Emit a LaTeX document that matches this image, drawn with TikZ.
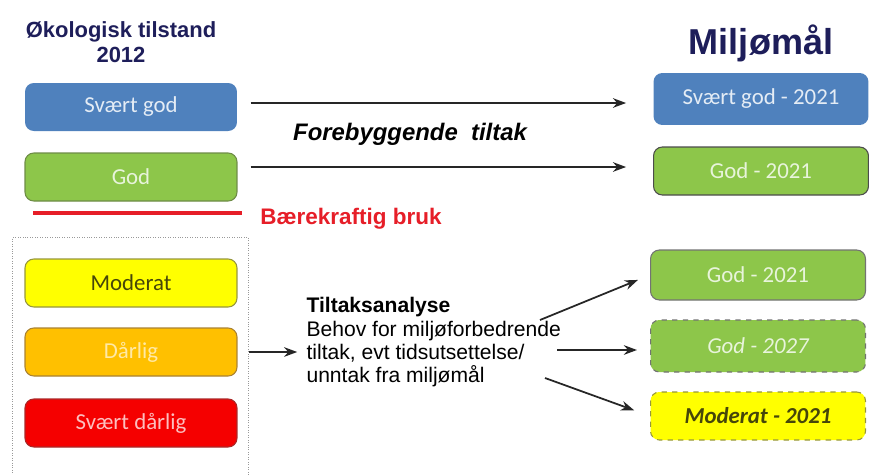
\documentclass[tikz,border=0pt]{standalone}
\usepackage{fontspec}
\setmainfont{Liberation Sans}
\newfontfamily\calfont{Carlito}
\usetikzlibrary{arrows.meta,positioning}

\definecolor{sgblue}{RGB}{79,129,189}
\definecolor{godgreen}{RGB}{141,198,74}
\definecolor{godline}{RGB}{110,140,70}
\definecolor{modyellow}{RGB}{255,255,0}
\definecolor{modline}{RGB}{150,150,60}
\definecolor{modtext}{RGB}{70,70,10}
\definecolor{darlorange}{RGB}{255,192,0}
\definecolor{darlline}{RGB}{170,130,50}
\definecolor{sdred}{RGB}{245,0,0}
\definecolor{sdline}{RGB}{170,40,40}
\definecolor{titlenavy}{RGB}{30,30,90}
\definecolor{brukred}{RGB}{230,30,40}

\begin{document}
\begin{tikzpicture}[x=0.02cm, y=-0.02cm, semithick,
  class/.style={rounded corners=5pt, minimum width=4.24cm, minimum height=0.96cm,
                font=\calfont\fontsize{13}{15}\selectfont, inner sep=0pt},
  goal/.style={class, minimum width=4.3cm},
  link/.style={-{Stealth[length=7.5pt,width=5.5pt]}, line width=1pt, black!85},
  heading/.style={font=\bfseries\fontsize{12.5}{14}\selectfont, text=titlenavy, align=center}]

  \useasboundingbox (0,0) rectangle (869,474);

  % titles
  \node[heading] (status) at (121,42) {Økologisk tilstand\\2012};
  \node[heading, font=\bfseries\fontsize{20.5}{22}\selectfont] (goals) at (761,43) {Miljømål};

  % left column: status 2012
  \node[draw=black!40, densely dotted, thin, minimum width=4.72cm, minimum height=4.9cm,
        anchor=north west, inner sep=0pt] (frame) at (12,237) {};
  \node[class, fill=sgblue, text=white!85!sgblue] (sg) at (131,107) {Svært god};
  \node[class, fill=godgreen, draw=godline, text=white!80!godgreen] (god) at (131,177) {God};
  \node[class, fill=modyellow, draw=modline, text=modtext] (mod) at (131,283) {Moderat};
  \node[class, fill=darlorange, draw=darlline, text=white!65!darlorange] (darl) at (131,352) {Dårlig};
  \node[class, fill=sdred, draw=sdline, text=white!75!sdred] (sd) at (131,423) {Svært dårlig};

  \coordinate (lineL) at (33,213);
  \coordinate (lineR) at (242,213);
  \draw[brukred, line width=2.8pt] (lineL) -- (lineR);
  \node[anchor=west, text=brukred, font=\bfseries\fontsize{12.8}{14}\selectfont] (bruk) at (254,219) {Bærekraftig bruk};

  % right column: goals
  \node[goal, fill=sgblue, text=white!85!sgblue, minimum height=1.04cm] (sg2) at (761,99) {Svært god - 2021};
  \node[goal, fill=godgreen, draw=black!70, text=white!80!godgreen] (god2) at (761,171) {God - 2021};
  \node[goal, fill=godgreen, draw=black!55, text=white!80!godgreen, minimum height=1cm] (god3) at (758,275) {God - 2021};
  \node[goal, fill=godgreen, draw=black!55, dashed, text=white!80!godgreen,
        font=\calfont\itshape\fontsize{13}{15}\selectfont, minimum height=1.04cm] (god4) at (758,346) {God - 2027};
  \node[goal, fill=modyellow, draw=modline, dashed, text=modtext,
        font=\calfont\itshape\bfseries\fontsize{13}{15}\selectfont] (mod2) at (758,416) {Moderat - 2021};

  % preventive measures
  \draw[link, shorten <=7.4pt, shorten >=15.3pt] (sg.east |- 0,103) -- (sg2.west |- 0,103);
  \draw[link, shorten <=7.4pt, shorten >=15.3pt] (god.east |- 0,167) -- (god2.west |- 0,167);
  \node[font=\bfseries\itshape\fontsize{13.6}{15}\selectfont] (prev) at (410,134) {Forebyggende\ \ tiltak};

  % measure analysis
  \node[anchor=north west, align=left, inner sep=0pt,
        font=\fontsize{12}{13.3}\selectfont] (analysis) at (306,297)
        {{\bfseries Tiltaksanalyse}\\Behov for miljøforbedrende\\tiltak, evt tidsutsettelse/\\unntak fra miljømål};
  \draw[link, shorten >=5pt] (frame.east |- darl) -- (analysis.west |- darl);

  \coordinate (out1) at (540,320);
  \coordinate (out2) at (557,350);
  \coordinate (out3) at (545,378);
  \draw[link, shorten >=7.4pt] (out1) -- (god3.west);
  \draw[link, shorten >=7.4pt] (out2) -- (god4.west |- out2);
  \draw[link, shorten >=9.6pt] (out3) -- (mod2.west);

\end{tikzpicture}
\end{document}
